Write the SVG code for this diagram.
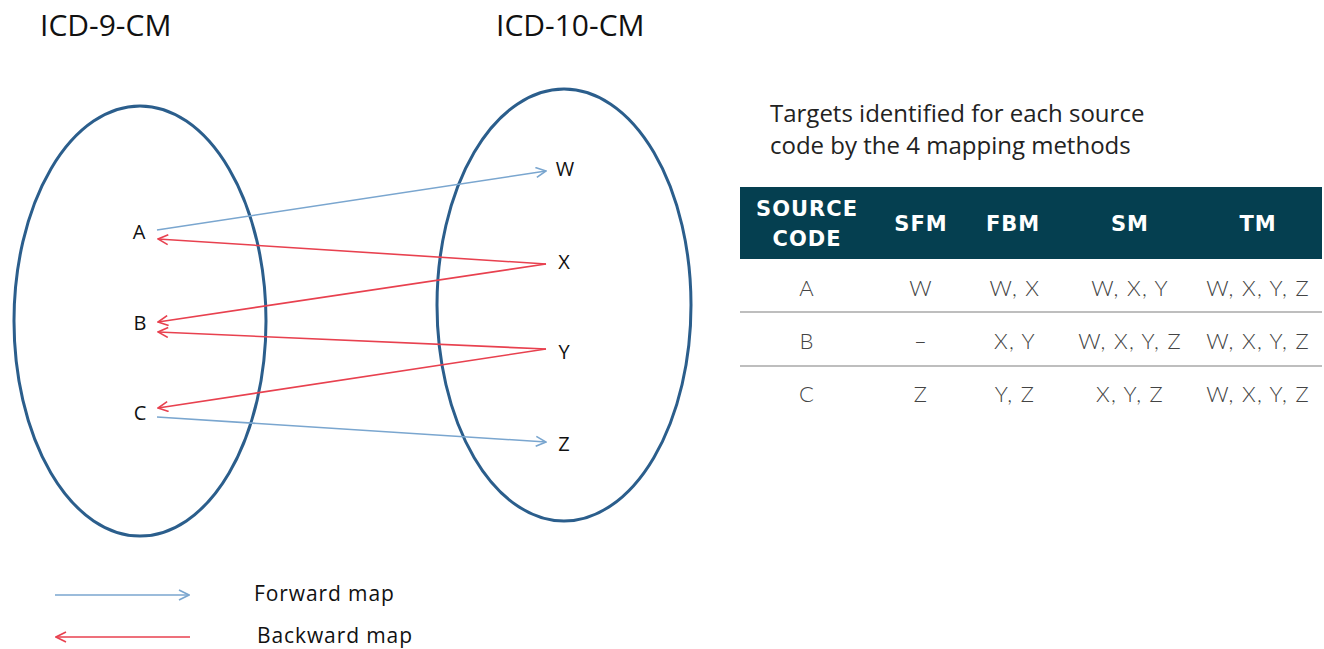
<svg xmlns="http://www.w3.org/2000/svg" width="1324" height="649" viewBox="0 0 1324 649">
<defs>
<style>
.ell{fill:none;stroke:#2b5e8c;stroke-width:3}
.fwd{fill:none;stroke:#7aa6cf;stroke-width:1.6}
.bwd{fill:none;stroke:#e8414f;stroke-width:1.6}
.title{font-family:"Open Sans","Liberation Sans",sans-serif;font-size:30px;fill:#111}
.lbl{font-family:"Open Sans","Liberation Sans",sans-serif;font-size:20px;fill:#111}
.leg{font-family:"Open Sans","Liberation Sans",sans-serif;font-size:21px;fill:#111;letter-spacing:0.9px}
.cap{font-family:"Open Sans","Liberation Sans",sans-serif;font-size:24px;fill:#222}
.hdr{font-family:"DejaVu Sans","Liberation Sans",sans-serif;font-size:21px;font-weight:bold;fill:#fff;text-anchor:middle;letter-spacing:1px}
.cell{font-family:Lato,"Liberation Sans",sans-serif;font-size:22px;font-weight:300;fill:#444;text-anchor:middle;letter-spacing:1.3px}
.sep{stroke:#a8a8a8;stroke-width:1.5}
</style>
<marker id="ah-f" viewBox="0 0 12 12" refX="11" refY="6" markerWidth="12" markerHeight="12" markerUnits="userSpaceOnUse" orient="auto">
<path d="M1,1 L11,6 L1,11" fill="none" stroke="#7aa6cf" stroke-width="1.6"/>
</marker>
<marker id="ah-b" viewBox="0 0 12 12" refX="11" refY="6" markerWidth="12" markerHeight="12" markerUnits="userSpaceOnUse" orient="auto">
<path d="M1,1 L11,6 L1,11" fill="none" stroke="#e8414f" stroke-width="1.6"/>
</marker>
</defs>
<rect width="1324" height="649" fill="#fff"/>

<g id="icd9">
<ellipse class="ell" cx="140" cy="321" rx="126" ry="215"/>
<text class="title" x="40" y="36">ICD-9-CM</text>
</g>
<g id="icd10">
<ellipse class="ell" cx="564" cy="305" rx="127" ry="216"/>
<text class="title" x="496" y="36">ICD-10-CM</text>
</g>

<g id="node-A"><text class="lbl" x="139" y="239" text-anchor="middle">A</text></g>
<g id="node-B"><text class="lbl" x="140" y="330" text-anchor="middle">B</text></g>
<g id="node-C"><text class="lbl" x="140" y="420" text-anchor="middle">C</text></g>
<g id="node-W"><text class="lbl" x="565" y="176" text-anchor="middle">W</text></g>
<g id="node-X"><text class="lbl" x="564" y="269" text-anchor="middle">X</text></g>
<g id="node-Y"><text class="lbl" x="564" y="359" text-anchor="middle">Y</text></g>
<g id="node-Z"><text class="lbl" x="564" y="451" text-anchor="middle">Z</text></g>

<g id="connectors">
<line class="fwd" x1="157" y1="230" x2="546" y2="171" marker-end="url(#ah-f)"/>
<line class="bwd" x1="546" y1="264" x2="158" y2="239" marker-end="url(#ah-b)"/>
<line class="bwd" x1="546" y1="264" x2="158" y2="322" marker-end="url(#ah-b)"/>
<line class="bwd" x1="546" y1="349" x2="158" y2="332" marker-end="url(#ah-b)"/>
<line class="bwd" x1="546" y1="349" x2="158" y2="408" marker-end="url(#ah-b)"/>
<line class="fwd" x1="157" y1="417" x2="546" y2="442" marker-end="url(#ah-f)"/>
<line class="fwd" x1="55" y1="595" x2="189" y2="595" marker-end="url(#ah-f)"/>
<line class="bwd" x1="190" y1="637" x2="56" y2="637" marker-end="url(#ah-b)"/>
</g>

<g id="legend">
<text class="leg" x="254" y="601">Forward map</text>
<text class="leg" x="257" y="643">Backward map</text>
</g>

<g id="caption">
<text class="cap" x="770" y="122">Targets identified for each source</text>
<text class="cap" x="770" y="154">code by the 4 mapping methods</text>
</g>

<g id="table">
<rect x="740" y="187" width="582" height="72" fill="#053f50"/>
<text class="hdr" x="807" y="216">SOURCE</text>
<text class="hdr" x="807" y="246">CODE</text>
<text class="hdr" x="921" y="231">SFM</text>
<text class="hdr" x="1013" y="231">FBM</text>
<text class="hdr" x="1130" y="231">SM</text>
<text class="hdr" x="1258" y="231">TM</text>

<text class="cell" x="807" y="296">A</text>
<text class="cell" x="921" y="296">W</text>
<text class="cell" x="1015" y="296">W, X</text>
<text class="cell" x="1130" y="296">W, X, Y</text>
<text class="cell" x="1258" y="296">W, X, Y, Z</text>
<line class="sep" x1="740" y1="312" x2="1322" y2="312"/>
<text class="cell" x="807" y="349">B</text>
<text class="cell" x="921" y="349">–</text>
<text class="cell" x="1015" y="349">X, Y</text>
<text class="cell" x="1130" y="349">W, X, Y, Z</text>
<text class="cell" x="1258" y="349">W, X, Y, Z</text>
<line class="sep" x1="740" y1="366" x2="1322" y2="366"/>
<text class="cell" x="807" y="402">C</text>
<text class="cell" x="921" y="402">Z</text>
<text class="cell" x="1015" y="402">Y, Z</text>
<text class="cell" x="1130" y="402">X, Y, Z</text>
<text class="cell" x="1258" y="402">W, X, Y, Z</text>
</g>
</svg>
